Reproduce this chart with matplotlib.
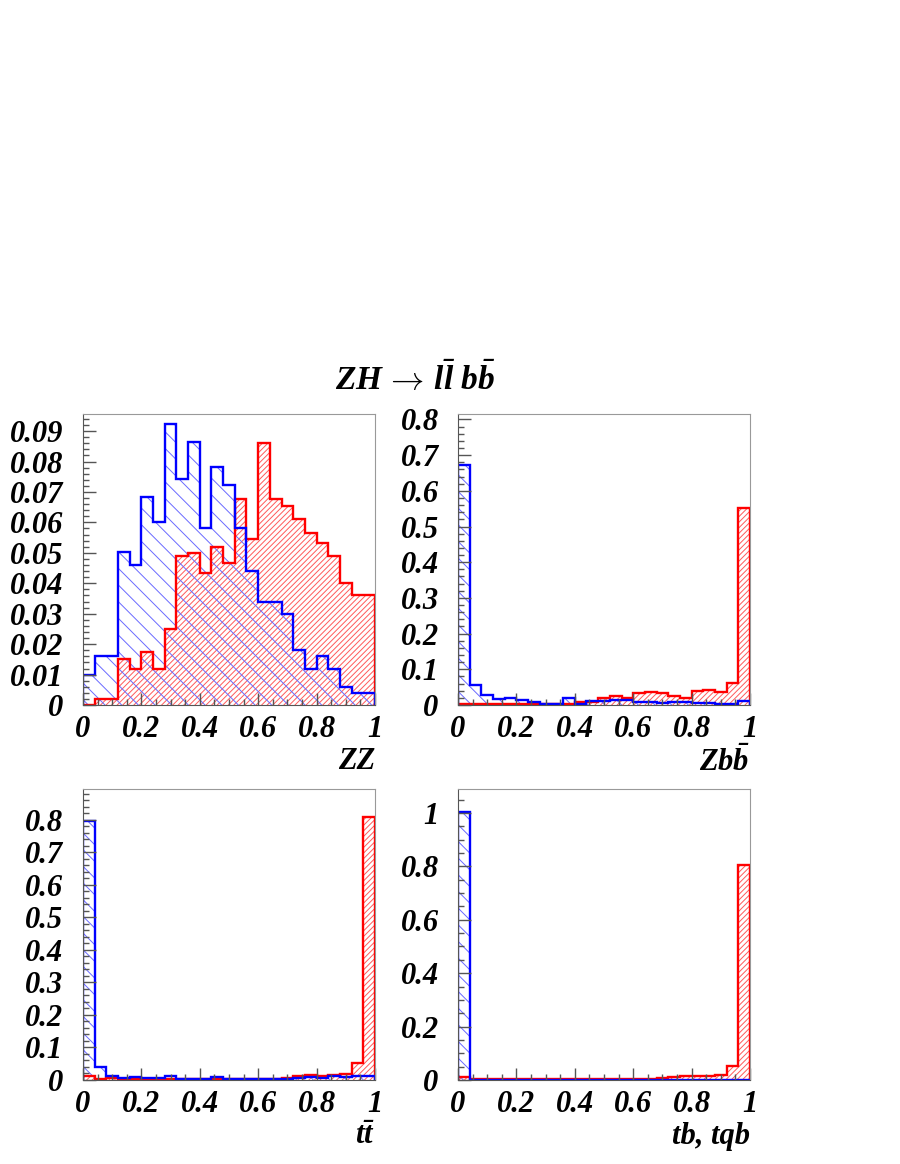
import numpy as np
import matplotlib
matplotlib.use("Agg")
import matplotlib.pyplot as plt
from matplotlib.ticker import MultipleLocator, FuncFormatter

plt.rcParams['font.family'] = 'Liberation Serif'
plt.rcParams['font.weight'] = 'bold'
plt.rcParams['font.style'] = 'italic'
plt.rcParams['mathtext.fontset'] = 'custom'
plt.rcParams['mathtext.it'] = 'Liberation Serif:bold:italic'
plt.rcParams['mathtext.rm'] = 'Liberation Serif:bold:italic'
plt.rcParams['mathtext.bf'] = 'Liberation Serif:bold:italic'
plt.rcParams['mathtext.sf'] = 'STIXGeneral:normal:normal'
plt.rcParams['hatch.linewidth'] = 0.7

# 25 bins between 0 and 1
edges = np.linspace(0, 1, 26)

# ZZ panel
zz_sig = [0.0, 0.002, 0.002, 0.0152, 0.012, 0.0173, 0.012, 0.025, 0.049, 0.050,
          0.0435, 0.052, 0.0468, 0.0676, 0.0545, 0.0861, 0.0676, 0.0653, 0.0612,
          0.0566, 0.0533, 0.049, 0.040, 0.036, 0.036]
zz_bkg = [0.010, 0.0161, 0.0161, 0.0502, 0.0461, 0.0685, 0.060, 0.0923, 0.0743,
          0.0864, 0.0583, 0.0782, 0.0722, 0.0583, 0.044, 0.034, 0.034, 0.030,
          0.018, 0.012, 0.016, 0.012, 0.006, 0.0038, 0.0038]

# Zbb panel
zbb_sig = [0.002, 0.002, 0.002, 0.002, 0.002, 0.002, 0.003, 0.004, 0.004, 0.004,
           0.0075, 0.009, 0.021, 0.025, 0.020, 0.033, 0.036, 0.035, 0.025,
           0.020, 0.039, 0.041, 0.036, 0.061, 0.553]
zbb_bkg = [0.673, 0.056, 0.028, 0.017, 0.021, 0.014, 0.0075, 0.003, 0.003, 0.021,
           0.003, 0.011, 0.012, 0.014, 0.014, 0.008, 0.0075, 0.0065, 0.009,
           0.0075, 0.0055, 0.0055, 0.003, 0.004, 0.012]

# ttbar panel
tt_sig = [0.012, 0.002, 0.005, 0.003, 0.003, 0.003, 0.003, 0.002, 0.002, 0.002,
          0.002, 0.002, 0.003, 0.003, 0.004, 0.004, 0.004, 0.007, 0.011, 0.014,
          0.013, 0.014, 0.019, 0.051, 0.807]
tt_bkg = [0.795, 0.041, 0.013, 0.005, 0.010, 0.005, 0.005, 0.012, 0.002, 0.002,
          0.002, 0.010, 0.002, 0.002, 0.002, 0.002, 0.002, 0.002, 0.007, 0.008,
          0.007, 0.013, 0.009, 0.011, 0.013]

# single top panel
tb_sig = [0.012, 0.002, 0.005, 0.002, 0.002, 0.002, 0.002, 0.002, 0.002, 0.002,
          0.002, 0.004, 0.002, 0.003, 0.002, 0.002, 0.003, 0.007, 0.010, 0.015,
          0.014, 0.014, 0.020, 0.052, 0.806]
tb_bkg = [1.004] + [0.0] * 24

panels = [
    (zz_sig, zz_bkg, 0.0956, 0.01, 0.002, 'ZZ'),
    (zbb_sig, zbb_bkg, 0.815, 0.1, 0.02, r'$Zb\bar{b}$'),
    (tt_sig, tt_bkg, 0.894, 0.1, 0.02, r'$t\bar{t}$'),
    (tb_sig, tb_bkg, 1.09, 0.2, 0.05, 'tb, tqb'),
]

boxes = [
    [0.0922, 0.3943, 0.3244, 0.25],
    [0.5089, 0.3943, 0.3244, 0.25],
    [0.0922, 0.0722, 0.3244, 0.25],
    [0.5089, 0.0722, 0.3244, 0.25],
]

blue = '#0000ff'
red = '#ff0000'

fig = plt.figure(figsize=(9, 11.64), dpi=100)

for (sig, bkg, ytop, ymaj, ymin, xlab), box in zip(panels, boxes):
    ax = fig.add_axes(box)
    # hatched fills
    ax.stairs(sig, edges, fill=True, facecolor='none', edgecolor='#ff5a5a',
              hatch='//////', linewidth=0)
    ax.stairs(bkg, edges, fill=True, facecolor='none', edgecolor='#6a6aff',
              hatch='\\\\', linewidth=0)
    # outlines
    ax.stairs(sig, edges, baseline=0, color=red, linewidth=1.7)
    ax.stairs(bkg, edges, baseline=0, color=blue, linewidth=1.7)

    ax.set_xlim(0, 1)
    ax.set_ylim(0, ytop)
    ax.xaxis.set_major_locator(MultipleLocator(0.2))
    ax.xaxis.set_minor_locator(MultipleLocator(0.05))
    ax.yaxis.set_major_locator(MultipleLocator(ymaj))
    ax.yaxis.set_minor_locator(MultipleLocator(ymin))
    fmt = FuncFormatter(lambda v, p: '%g' % round(v, 6))
    ax.xaxis.set_major_formatter(fmt)
    ax.yaxis.set_major_formatter(fmt)
    ax.tick_params(which='both', direction='in', colors='#555555',
                   labelcolor='black', labelsize=22)
    ax.tick_params(which='major', length=9, width=1)
    ax.tick_params(which='minor', length=4.5, width=1)
    ax.tick_params(axis='y', pad=14)
    ax.tick_params(axis='x', pad=7)
    for s in ['left', 'bottom']:
        ax.spines[s].set_color('#555555')
    for s in ['top', 'right']:
        ax.spines[s].set_color('#999999')
    ax.text(1.0, -0.195, xlab, transform=ax.transAxes, ha='right', va='center',
            fontsize=22)

fig.text(0.461, 0.674, r'$ZH\,\mathsf{\rightarrow}\,l\bar{l}\ b\bar{b}$',
         ha='center', va='center', fontsize=24)

fig.savefig('out.png', dpi=100)
